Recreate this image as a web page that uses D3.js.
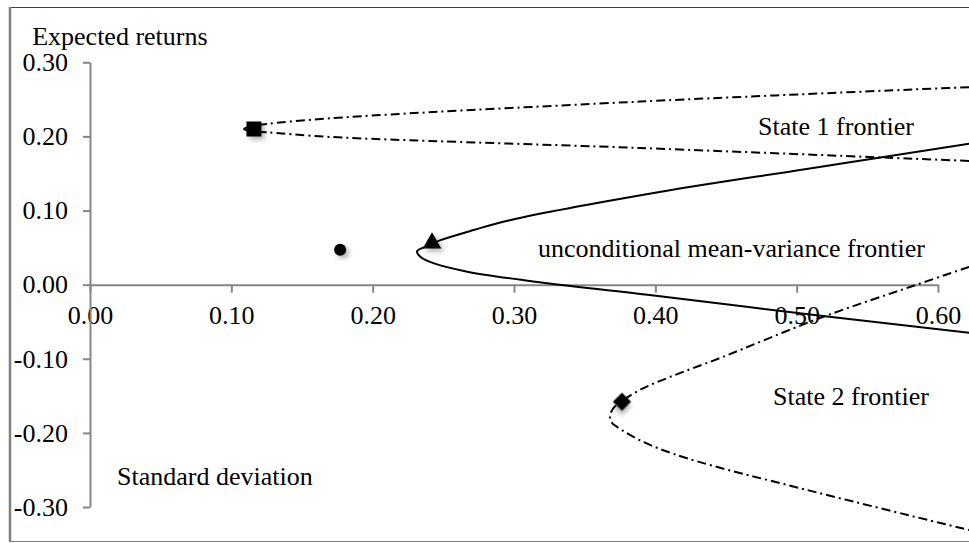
<!DOCTYPE html>
<html>
<head>
<meta charset="utf-8">
<script src="https://cdn.jsdelivr.net/npm/d3@7"></script>
<style>
  body { margin: 0; background: #fff; }
  svg text { font-family: "Liberation Serif", "Times New Roman", serif; fill: #000; }
</style>
</head>
<body>
<div id="chart"></div>
<script>
// Axis ticks and their labels
const xTicks = [0, 0.1, 0.2, 0.3, 0.4, 0.5, 0.6];
const xTickLabels = ["0.00", "0.10", "0.20", "0.30", "0.40", "0.50", "0.60"];
const yTicks = [0.3, 0.2, 0.1, 0, -0.1, -0.2, -0.3];
const yTickLabels = ["0.30", "0.20", "0.10", "0.00", "-0.10", "-0.20", "-0.30"];

// Frontiers as [standard deviation, expected return]
const unconditional = [
    [0.622, 0.190], [0.507, 0.156], [0.403, 0.125], [0.297, 0.087],
    [0.272, 0.074], [0.248, 0.060], [0.237, 0.051], [0.2314, 0.045],
    [0.2335, 0.038], [0.243, 0.029], [0.267, 0.0175], [0.311, 0.005],
    [0.396, -0.014], [0.517, -0.042], [0.622, -0.065]
];
const state1 = [
    [0.622, 0.2665], [0.389, 0.247], [0.170, 0.2245], [0.125, 0.2168],
    [0.1146, 0.2141], [0.109, 0.210], [0.1146, 0.2067], [0.125, 0.2056],
    [0.170, 0.1993], [0.389, 0.1844], [0.622, 0.1669]
];
const state2 = [
    [0.622, 0.024], [0.585, 0.0], [0.5165, -0.045], [0.4458, -0.099],
    [0.4104, -0.1245], [0.389, -0.142], [0.3764, -0.157], [0.370, -0.1675],
    [0.368, -0.178], [0.3694, -0.1866], [0.373, -0.192], [0.391, -0.2118],
    [0.4224, -0.2342], [0.5073, -0.277], [0.622, -0.331]
];

// Single portfolios
const pointNames = ["square", "circle", "triangle", "diamond"];
const pointSd = [0.116, 0.177, 0.242, 0.3764];
const pointRet = [0.210, 0.047, 0.0597, -0.158];

const width = 969, height = 543;

const svg = d3.select("#chart")
    .append("svg")
    .attr("width", width)
    .attr("height", height);

// Soft grey shadow behind the markers
const shadow = svg.append("defs").append("filter")
    .attr("id", "shadow")
    .attr("x", "-50%").attr("y", "-50%")
    .attr("width", "200%").attr("height", "200%");
shadow.append("feDropShadow")
    .attr("dx", 3).attr("dy", 3)
    .attr("stdDeviation", 2.5)
    .attr("flood-color", "#000")
    .attr("flood-opacity", 0.3);

// Chart border (right side is cut off)
svg.append("line").attr("x1", 10).attr("x2", width).attr("y1", 7.5).attr("y2", 7.5)
    .attr("stroke", "#404040").attr("stroke-width", 1.2);
svg.append("line").attr("x1", 10).attr("x2", width).attr("y1", 541.5).attr("y2", 541.5)
    .attr("stroke", "#808080").attr("stroke-width", 1.2);
svg.append("line").attr("x1", 10).attr("x2", 10).attr("y1", 7).attr("y2", 542)
    .attr("stroke", "#7f7f7f").attr("stroke-width", 2.5);

// Scales
const x = d3.scaleLinear().domain([0, 0.6]).range([90, 938]);
const y = d3.scaleLinear().domain([-0.3, 0.3]).range([507, 62.3]);

// x axis, crossing at zero return
const xAxis = svg.append("g")
    .attr("transform", `translate(0,${y(0)})`)
    .call(d3.axisBottom(x)
        .tickValues(xTicks)
        .tickSize(8)
        .tickSizeOuter(0)
        .tickFormat((d, i) => xTickLabels[i]));

// y axis at zero standard deviation
const yAxis = svg.append("g")
    .attr("transform", `translate(${x(0)},0)`)
    .call(d3.axisLeft(y)
        .tickValues(yTicks)
        .tickSize(7)
        .tickSizeOuter(0)
        .tickFormat((d, i) => yTickLabels[i]));

[xAxis, yAxis].forEach(g => {
    g.select(".domain").attr("stroke", "#868686").attr("stroke-width", 2);
    g.selectAll(".tick line").attr("stroke", "#868686").attr("stroke-width", 2);
    g.selectAll("text")
        .style("font-size", "26px")
        .style("font-family", "'Liberation Serif', 'Times New Roman', serif")
        .attr("fill", "#000");
});
xAxis.selectAll("text").attr("y", 21).attr("dy", "0.71em");
yAxis.selectAll("text").attr("x", -22).attr("dy", "0.32em");

// Frontier curves
const line = d3.line()
    .x(d => x(d[0]))
    .y(d => y(d[1]))
    .curve(d3.curveCatmullRom.alpha(0.5));

svg.append("path")
    .datum(unconditional)
    .attr("d", line)
    .attr("fill", "none")
    .attr("stroke", "#000")
    .attr("stroke-width", 2);

[state1, state2].forEach(pts => {
    svg.append("path")
        .datum(pts)
        .attr("d", line)
        .attr("fill", "none")
        .attr("stroke", "#000")
        .attr("stroke-width", 2)
        .attr("stroke-dasharray", "9,4,2,4");
});

// Markers
const symbolOf = {
    square: d3.symbol(d3.symbolSquare, 225),
    circle: d3.symbol(d3.symbolCircle, 115),
    triangle: d3.symbol(d3.symbolTriangle, 150),
    diamond: d3.symbol(d3.symbolSquare, 165)
};
const extraTransform = { square: "", circle: "", triangle: " translate(0,2.7)", diamond: " rotate(45)" };

svg.append("g")
    .selectAll("path")
    .data(pointNames)
    .enter().append("path")
    .attr("d", d => symbolOf[d]())
    .attr("transform", (d, i) => `translate(${x(pointSd[i])},${y(pointRet[i])})` + extraTransform[d])
    .attr("fill", "#000")
    .attr("filter", "url(#shadow)");

// Annotations
const note = (sd, ret, txt) => svg.append("text")
    .attr("x", x(sd))
    .attr("y", y(ret))
    .style("font-size", "26px")
    .text(txt);

note(-0.0409, 0.323, "Expected returns");
note(0.0191, -0.270, "Standard deviation");
note(0.4727, 0.2020, "State 1 frontier");
note(0.3170, 0.0374, "unconditional mean-variance frontier");
note(0.4833, -0.1623, "State 2 frontier");
</script>
</body>
</html>
